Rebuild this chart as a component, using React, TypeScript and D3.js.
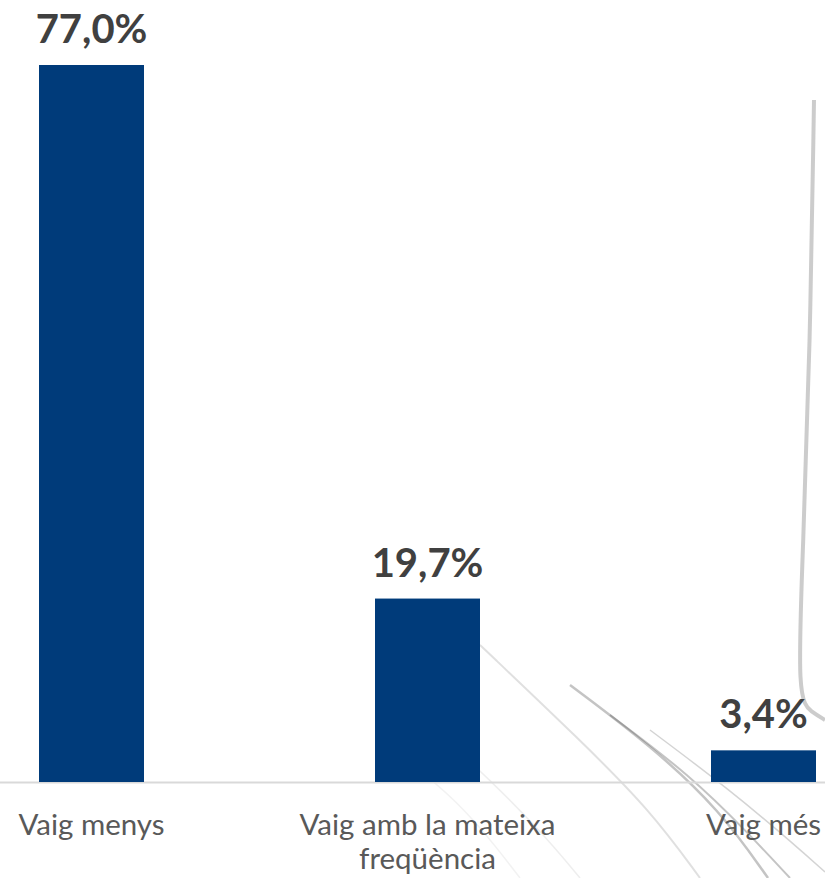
import React from "react";
import * as d3 from "d3";

const categories = ["Vaig menys", "Vaig amb la mateixa freqüència", "Vaig més"];
const values = [77.0, 19.7, 3.4];
const valueLabels = ["77,0%", "19,7%", "3,4%"];

const W = 825;
const H = 878;
const BASE = 782;
const TOP = 65;

function wrap(text: string, maxChars: number): string[] {
  const words = text.split(" ");
  const lines: string[] = [];
  let cur = "";
  for (const w of words) {
    const next = cur ? cur + " " + w : w;
    if (next.length > maxChars && cur) {
      lines.push(cur);
      cur = w;
    } else cur = next;
  }
  if (cur) lines.push(cur);
  return lines;
}

export default function App() {
  const x = d3
    .scaleBand<string>()
    .domain(categories)
    .range([-76.5, 931.5])
    .paddingInner(0.6875)
    .paddingOuter(0.34375);
  const y = d3.scaleLinear().domain([0, 77]).range([BASE, TOP]);

  const line = d3.line<[number, number]>().curve(d3.curveBasis);
  const deco: { pts: [number, number][]; w: number; o: number }[] = [
    { pts: [[814, 100], [810, 350], [803, 550], [797, 700], [812, 712], [825, 720]], w: 4, o: 0.3 },
    { pts: [[480, 645], [580, 740], [650, 810], [700, 878]], w: 2, o: 0.18 },
    { pts: [[570, 685], [650, 745], [720, 810], [768, 878]], w: 2.5, o: 0.35 },
    { pts: [[610, 715], [690, 775], [750, 835], [790, 878]], w: 2, o: 0.35 },
    { pts: [[650, 730], [730, 790], [795, 845], [825, 872]], w: 1.5, o: 0.25 },
    { pts: [[400, 700], [470, 760], [540, 830], [580, 878]], w: 1.5, o: 0.1 },
    { pts: [[380, 740], [460, 800], [520, 878]], w: 1.5, o: 0.08 },
  ];

  return (
    <svg width={W} height={H} style={{ display: "block", position: "absolute", left: 0, top: 0, background: "#fff" }}>
      <rect x={0} y={0} width={W} height={H} fill="#ffffff" />
      <g fill="none" stroke="#555">
        {deco.map((d, i) => (
          <path key={i} d={line(d.pts) || ""} strokeWidth={d.w} strokeOpacity={d.o} />
        ))}
      </g>
      <line x1={0} x2={W} y1={BASE + 0.5} y2={BASE + 0.5} stroke="#d9d9d9" strokeWidth={2} />
      {categories.map((c, i) => {
        const bx = x(c)!;
        const cx = bx + x.bandwidth() / 2;
        const lines = wrap(c, 20);
        return (
          <g key={c}>
            <rect x={bx} y={y(values[i])} width={x.bandwidth()} height={BASE - y(values[i])} fill="#003B7A" />
            <text
              x={cx}
              y={y(values[i]) - 22}
              textAnchor="middle"
              fontFamily="Lato, 'Open Sans', sans-serif"
              fontWeight={700}
              fontSize={40}
              fill="#404040"
            >
              {valueLabels[i]}
            </text>
            <text textAnchor="middle" fontFamily="Lato, 'Open Sans', sans-serif" fontSize={29.5} fill="#595959">
              {lines.map((l, j) => (
                <tspan key={j} x={cx} y={835 + j * 34}>
                  {l}
                </tspan>
              ))}
            </text>
          </g>
        );
      })}
    </svg>
  );
}
